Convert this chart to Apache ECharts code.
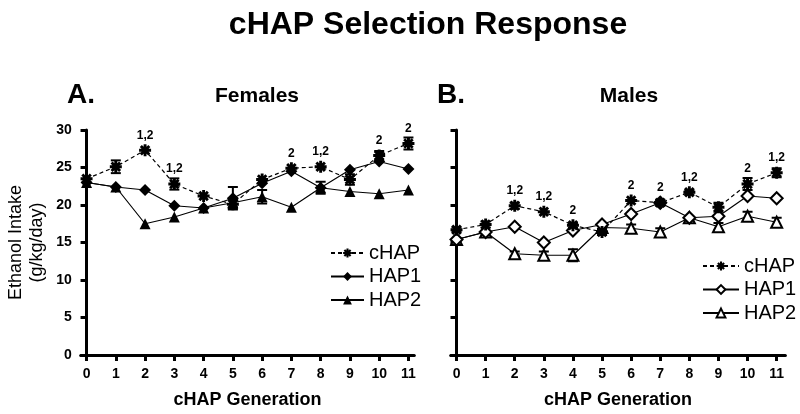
<!DOCTYPE html>
<html>
<head>
<meta charset="utf-8">
<script src="https://cdn.jsdelivr.net/npm/echarts@6/dist/echarts.min.js"></script>
<style>
html,body{margin:0;padding:0;background:#fff;}
#chart{width:800px;height:414px;}
</style>
</head>
<body>
<div id="chart"></div>
<script>
// ---- Data ----
const generations = [0,1,2,3,4,5,6,7,8,9,10,11];
const yTicks = [0,5,10,15,20,25,30];

// Females
const F_cHAP     = [23.5, 25.1, 27.3, 22.8, 21.2, 20.1, 23.4, 24.9, 25.1, 23.4, 26.6, 28.2];
const F_cHAP_err = [0,    0.85, 0,    0.75, 0,    0.6,  0,    0,    0,    0.7,  0.6,  0.8 ];
const F_HAP1     = [23.0, 22.4, 22.0, 19.9, 19.6, 20.9, 22.9, 24.5, 22.3, 24.7, 25.8, 24.8];
const F_HAP1_err = [0,    0,    0,    0,    0,    1.5,  0,    0,    0.8,  0,    0,    0   ];
const F_HAP2     = [23.0, 22.4, 17.5, 18.4, 19.6, 20.3, 21.1, 19.7, 22.3, 21.8, 21.5, 22.0];
const F_HAP2_err = [0,    0,    0,    0,    0,    0.6,  0.9,  0,    0,    0,    0,    0   ];
const F_sig      = ['', '', '1,2', '1,2', '', '', '', '2', '1,2', '', '2', '2'];

// Males
const M_cHAP     = [16.7, 17.4, 19.9, 19.1, 17.3, 16.4, 20.6, 20.3, 21.7, 19.7, 22.8, 24.3];
const M_cHAP_err = [0.3,  0.4,  0.4,  0,    0.3,  0.4,  0,    0.4,  0.3,  0.6,  0.8,  0.6 ];
const M_HAP1     = [15.4, 16.4, 17.1, 15.0, 16.6, 17.4, 18.8, 20.3, 18.3, 18.5, 21.2, 20.9];
const M_HAP1_err = [0,    0,    0,    0,    0,    0,    0,    0,    0,    0,    0,    0   ];
const M_HAP2     = [15.4, 16.4, 13.5, 13.3, 13.3, 17.0, 16.9, 16.4, 18.3, 17.1, 18.5, 17.7];
const M_HAP2_err = [0,    0,    0.3,  0.5,  0.8,  0.5,  0.5,  0.5,  0,    0.5,  0.6,  0.6 ];
const M_sig      = ['', '', '1,2', '1,2', '2', '', '2', '2', '1,2', '', '2', '1,2'];

const seriesNames = ['cHAP', 'HAP1', 'HAP2'];

// ---- Chart ----
const FONT = '"Liberation Sans", Arial, sans-serif';
const asterisk = 'path://M-1.2,-5L1.2,-5L1.2,5L-1.2,5Z M-5,-1.2L5,-1.2L5,1.2L-5,1.2Z M-2.69,-4.39L4.39,2.69L2.69,4.39L-4.39,-2.69Z M-2.69,4.39L-4.39,2.69L2.69,-4.39L4.39,-2.69Z';

function pairs(vals, errs){ return generations.map((g,i)=>[g, vals[i], errs ? errs[i] : 0]); }

function errSeries(vals, errs, idx){
  return {
    type:'custom', xAxisIndex:idx, yAxisIndex:idx, z:1, silent:true,
    data: pairs(vals, errs),
    renderItem: function(params, api){
      const x = api.value(0), v = api.value(1), e = api.value(2);
      if(!e) return null;
      const t = api.coord([x, v+e]), b = api.coord([x, v-e]);
      const hw = 5;
      const st = {stroke:'#000', lineWidth:2};
      return {type:'group', children:[
        {type:'line', shape:{x1:t[0],y1:t[1],x2:b[0],y2:b[1]}, style:st},
        {type:'line', shape:{x1:t[0]-hw,y1:t[1],x2:t[0]+hw,y2:t[1]}, style:st},
        {type:'line', shape:{x1:b[0]-hw,y1:b[1],x2:b[0]+hw,y2:b[1]}, style:st}
      ]};
    }
  };
}

function lineSeries(prefix, name, vals, idx, symbol, filled, sig){
  const s = {
    name: prefix + name, type:'line', xAxisIndex:idx, yAxisIndex:idx, z:3,
    data: generations.map((g,i)=>[g, vals[i]]),
    symbol: symbol,
    symbolSize: symbol === 'triangle' ? 11 : 12,
    showAllSymbol:true,
    lineStyle:{color:'#000', width:1.2, type: name==='cHAP' ? [4,3] : 'solid'},
    itemStyle: filled ? {color:'#000', borderColor:'#000', borderWidth:0}
                      : {color:'#fff', borderColor:'#000', borderWidth:2},
    emphasis:{disabled:true}
  };
  if(sig){
    s.label = {show:true, position:'top', distance:3, color:'#000',
      fontFamily:FONT, fontWeight:'bold', fontSize:12,
      formatter: p => sig[p.dataIndex]};
  }
  return s;
}

function xAxis(idx, max){
  return {
    gridIndex:idx, type:'value', min:-0.2, max:max,
    name:'cHAP Generation', nameLocation:'middle', nameGap:36,
    nameTextStyle:{fontFamily:FONT, fontWeight:'bold', fontSize:18, color:'#000'},
    axisLine:{show:true, lineStyle:{color:'#000', width:3}},
    axisTick:{show:true, length:6, lineStyle:{color:'#000', width:3}, customValues:generations},
    axisLabel:{show:true, margin:12, fontFamily:FONT, fontWeight:'bold', fontSize:14, color:'#000', customValues:generations},
    splitLine:{show:false}
  };
}
function yAxis(idx, showLabels){
  return {
    gridIndex:idx, type:'value', min:0, max:30, interval:5,
    name: showLabels ? 'Ethanol Intake\n(g/kg/day)' : '',
    nameLocation:'middle', nameGap:33,
    nameTextStyle:{fontFamily:FONT, fontSize:18, color:'#000', lineHeight:21},
    axisLine:{show:true, lineStyle:{color:'#000', width:3}},
    axisTick:{show:true, length:6, lineStyle:{color:'#000', width:3}},
    axisLabel:{show:showLabels, margin:9, fontFamily:FONT, fontWeight:'bold', fontSize:14, color:'#000',
      formatter: v => yTicks.indexOf(v) >= 0 ? String(v) : ''},
    splitLine:{show:false}
  };
}

const chart = echarts.init(document.getElementById('chart'), null, {renderer:'canvas'});
const option = {
  animation:false,
  backgroundColor:'#fff',
  title:[
    {text:'cHAP Selection Response', left:423, top:4, textAlign:'center',
     textStyle:{fontFamily:FONT, fontWeight:'bold', fontSize:32, color:'#000'}},
    {text:'A.', left:62, top:76, textStyle:{fontFamily:FONT, fontWeight:'bold', fontSize:28, color:'#000'}},
    {text:'Females', left:252, top:81, textAlign:'center', textStyle:{fontFamily:FONT, fontWeight:'bold', fontSize:21, color:'#000'}},
    {text:'B.', left:432, top:76, textStyle:{fontFamily:FONT, fontWeight:'bold', fontSize:28, color:'#000'}},
    {text:'Males', left:624, top:81, textAlign:'center', textStyle:{fontFamily:FONT, fontWeight:'bold', fontSize:21, color:'#000'}}
  ],
  grid:[
    {left:80.7, top:130, width:333.6, height:230},
    {left:450.7, top:130, width:334.7, height:230}
  ],
  legend:[
    {data: seriesNames.map(n=>'F:'+n), orient:'vertical', left:330, top:243, padding:0,
     itemWidth:33, itemHeight:11, itemGap:3.5, selectedMode:false,
     formatter: n => n.split(':')[1],
     textStyle:{fontFamily:FONT, fontSize:20, color:'#000', lineHeight:20}},
    {data: seriesNames.map(n=>'M:'+n), orient:'vertical', left:702, top:256, padding:0,
     itemWidth:36, itemHeight:11, itemGap:3.5, selectedMode:false,
     formatter: n => n.split(':')[1],
     textStyle:{fontFamily:FONT, fontSize:20, color:'#000', lineHeight:20}}
  ],
  xAxis:[xAxis(0, 11.2), xAxis(1, 11.3)],
  yAxis:[yAxis(0, true), yAxis(1, false)],
  series:[
    errSeries(F_cHAP, F_cHAP_err, 0),
    errSeries(F_HAP1, F_HAP1_err, 0),
    errSeries(F_HAP2, F_HAP2_err, 0),
    errSeries(M_cHAP, M_cHAP_err, 1),
    errSeries(M_HAP1, M_HAP1_err, 1),
    errSeries(M_HAP2, M_HAP2_err, 1),
    lineSeries('F:', 'HAP2', F_HAP2, 0, 'triangle', true),
    lineSeries('F:', 'HAP1', F_HAP1, 0, 'diamond', true),
    lineSeries('F:', 'cHAP', F_cHAP, 0, asterisk, true, F_sig),
    lineSeries('M:', 'HAP2', M_HAP2, 1, 'triangle', false),
    lineSeries('M:', 'HAP1', M_HAP1, 1, 'diamond', false),
    lineSeries('M:', 'cHAP', M_cHAP, 1, asterisk, true, M_sig)
  ]
};
chart.setOption(option);
</script>
</body>
</html>
